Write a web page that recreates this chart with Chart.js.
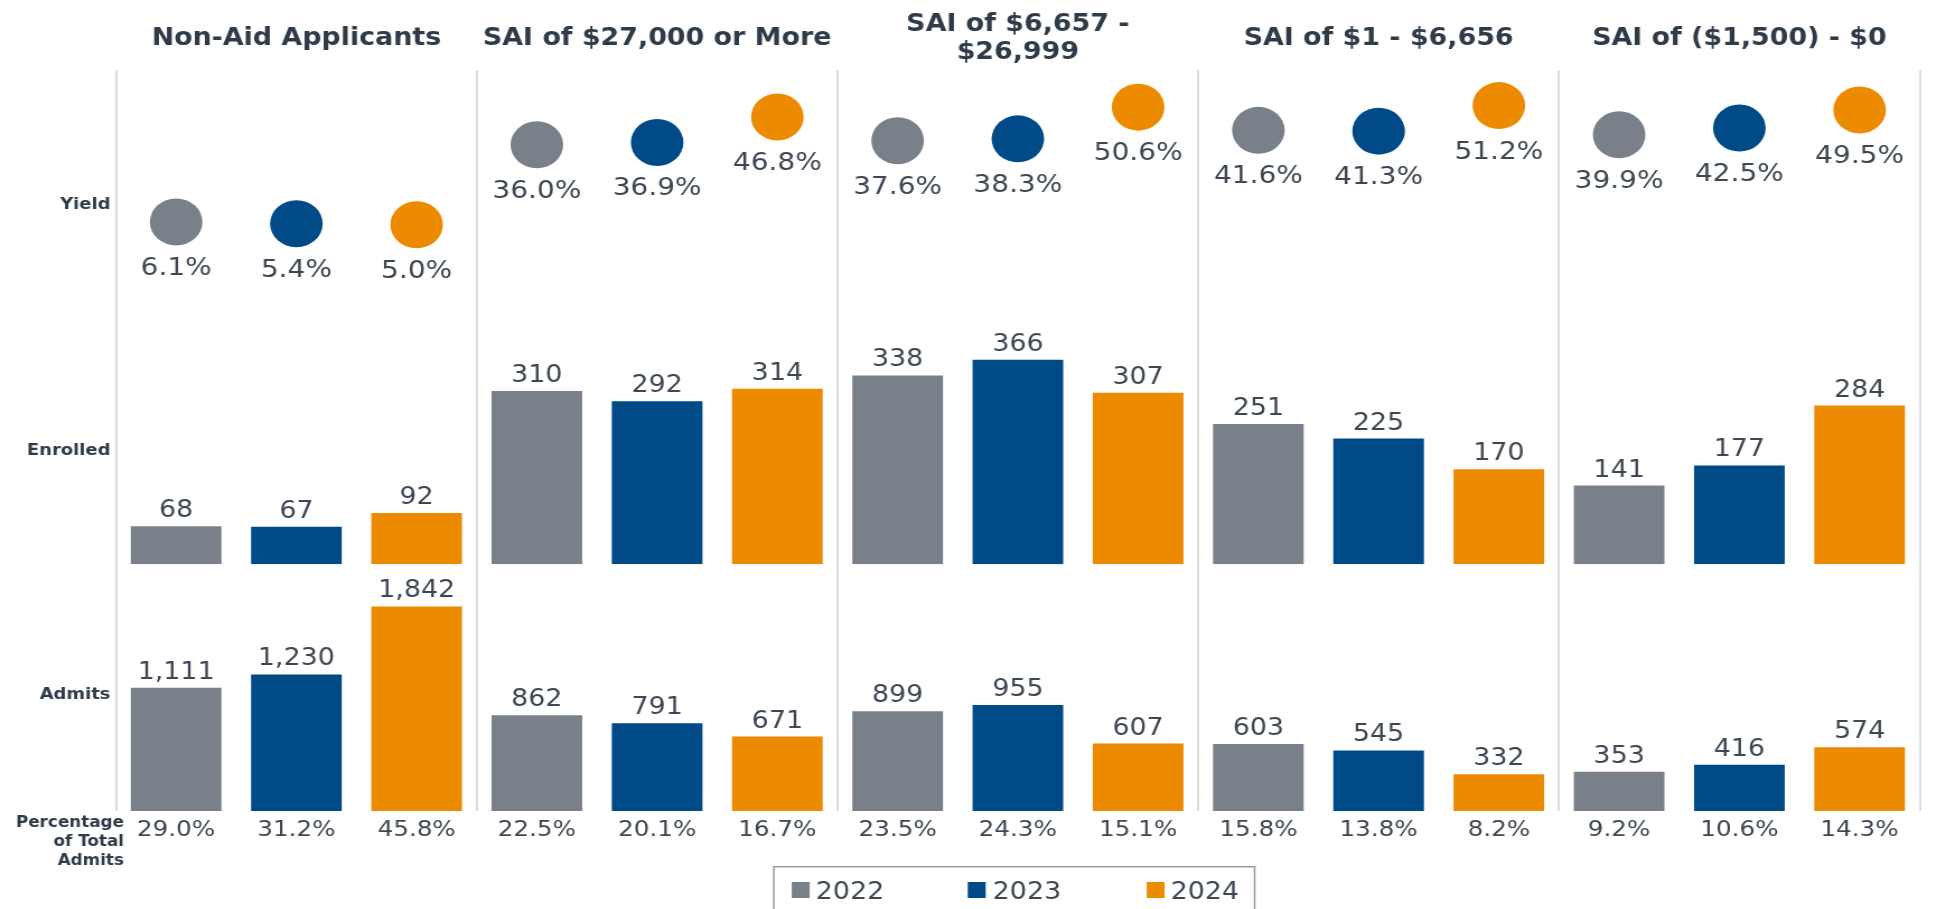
<!DOCTYPE html>
<html><head><meta charset="utf-8">
<script src="https://cdn.jsdelivr.net/npm/chart.js@4.4.1/dist/chart.umd.min.js"></script>
<style>
html,body{margin:0;padding:0;background:#fff;overflow:hidden;width:1946px;height:909px;}
#wrap{position:absolute;left:0;top:0;width:1738px;height:909px;transform:scaleX(1.1197);transform-origin:0 0;}
canvas{display:block;}
</style></head><body>
<div id="wrap"><canvas id="c" width="1738" height="909" style="width:1738px;height:909px"></canvas></div>
<script>
// ---- data ----
const groupLabels = ['Non-Aid Applicants', 'SAI of $27,000 or More', ['SAI of $6,657 -', '$26,999'], 'SAI of $1 - $6,656', 'SAI of ($1,500) - $0'];
const years = ['2022', '2023', '2024'];

const yield2022 = [6.1, 36.0, 37.6, 41.6, 39.9];
const yield2023 = [5.4, 36.9, 38.3, 41.3, 42.5];
const yield2024 = [5.0, 46.8, 50.6, 51.2, 49.5];

const enrolled2022 = [68, 310, 338, 251, 141];
const enrolled2023 = [67, 292, 366, 225, 177];
const enrolled2024 = [92, 314, 307, 170, 284];

const admits2022 = [1111, 862, 899, 603, 353];
const admits2023 = [1230, 791, 955, 545, 416];
const admits2024 = [1842, 671, 607, 332, 574];

const pct2022 = [29.0, 22.5, 23.5, 15.8, 9.2];
const pct2023 = [31.2, 20.1, 24.3, 13.8, 10.6];
const pct2024 = [45.8, 16.7, 15.1, 8.2, 14.3];

const rowLabels = ['Yield', 'Enrolled', 'Admits'];
const pctRowLabel = ['Percentage', 'of Total', 'Admits'];

// ---- styles ----
const yearColors = ['#7a8089', '#004b87', '#ec8b00'];
const titleColor = '#2f3b49';
const textColor = '#3d4652';
Chart.defaults.font.family = "'DejaVu Sans', Verdana, sans-serif";

// ---- build library table (group x year) ----
function flatten(a, b, c) {
  const src = [a, b, c], out = [];
  for (let g = 0; g < groupLabels.length; g++) for (let y = 0; y < years.length; y++) out.push(src[y][g]);
  return out;
}
const cats = [];
for (let g = 0; g < groupLabels.length; g++) for (let y = 0; y < years.length; y++) cats.push(String(groupLabels[g]) + ' ' + years[y]);
const yieldVals = flatten(yield2022, yield2023, yield2024);
const enrolledVals = flatten(enrolled2022, enrolled2023, enrolled2024);
const admitsVals = flatten(admits2022, admits2023, admits2024);
const pctVals = flatten(pct2022, pct2023, pct2024);
const colorsFlat = cats.map((_, i) => yearColors[i % years.length]);

const barCommon = { type: 'bar', grouped: false, barPercentage: 0.754, categoryPercentage: 1, borderWidth: 0, backgroundColor: colorsFlat };

const valueLabels = {
  id: 'valueLabels',
  afterDatasetsDraw(chart) {
    const ctx = chart.ctx;
    ctx.save();
    ctx.textAlign = 'center';
    ctx.textBaseline = 'alphabetic';
    ctx.fillStyle = textColor;
    chart.data.datasets.forEach((ds, di) => {
      const meta = chart.getDatasetMeta(di);
      meta.data.forEach((el, i) => {
        const v = ds.data[i];
        if (ds.type === 'line') {
          ctx.font = "25px 'DejaVu Sans'";
          ctx.fillText(v.toFixed(1) + '%', el.x, el.y + 53);
        } else {
          ctx.font = "24px 'DejaVu Sans'";
          ctx.fillText(v.toLocaleString('en-US'), el.x, el.y - 9);
        }
      });
    });
    ctx.restore();
  }
};

const extras = {
  id: 'extras',
  afterDraw(chart) {
    const ctx = chart.ctx;
    ctx.save();
    // Percentage of Total Admits row label
    ctx.fillStyle = titleColor;
    ctx.font = "bold 15px 'DejaVu Sans'";
    ctx.textAlign = 'right';
    ctx.textBaseline = 'alphabetic';
    const baseY = [826.7, 846, 865];
    pctRowLabel.forEach((t, i) => ctx.fillText(t, 110.7, baseY[i]));
    // legend
    ctx.strokeStyle = '#9a9a9a';
    ctx.lineWidth = 1.5;
    ctx.strokeRect(691.1, 866.7, 429.4, 60);
    const sq = [707.1, 864.3, 1024.1];
    const tx = [728.6, 886.6, 1045.5];
    ctx.font = "24px 'DejaVu Sans'";
    ctx.textAlign = 'left';
    years.forEach((yr, i) => {
      ctx.fillStyle = yearColors[i];
      ctx.fillRect(sq[i], 882, 16, 16);
      ctx.fillStyle = textColor;
      ctx.fillText(yr, tx[i], 899);
    });
    ctx.restore();
  }
};

function rowAxis(weight, min, max, tickValue, label) {
  return {
    type: 'linear', position: 'left', stack: 'rows', stackWeight: weight, min: min, max: max,
    grid: { display: false, drawTicks: false }, border: { display: false },
    afterBuildTicks: s => { s.ticks = [{ value: tickValue }]; },
    ticks: { callback: () => label, padding: 5, color: titleColor, font: { size: 16, weight: 'bold' } },
    afterFit: s => { s.width = 103.6; }
  };
}

new Chart(document.getElementById('c'), {
  data: {
    labels: cats,
    datasets: [
      Object.assign({}, barCommon, { label: 'Admits', data: admitsVals, yAxisID: 'yAdm' }),
      Object.assign({}, barCommon, { label: 'Enrolled', data: enrolledVals, yAxisID: 'yEnr' }),
      { type: 'line', label: 'Yield', data: yieldVals, yAxisID: 'yYld', showLine: false,
        pointRadius: 23.5, pointHoverRadius: 23.5, pointBorderWidth: 0, pointHoverBorderWidth: 0,
        pointBackgroundColor: colorsFlat, pointHoverBackgroundColor: colorsFlat, borderColor: 'rgba(0,0,0,0)', clip: false }
    ]
  },
  options: {
    responsive: false, animation: false, devicePixelRatio: 1,
    layout: { padding: 0 },
    events: [],
    plugins: { legend: { display: false }, tooltip: { enabled: false } },
    scales: {
      x: {
        type: 'category', position: 'bottom', offset: true,
        grid: { display: false, drawTicks: false }, border: { display: false },
        ticks: { autoSkip: false, maxRotation: 0, padding: 6, color: textColor, font: { size: 22 },
          callback: (v, i) => pctVals[i].toFixed(1) + '%' },
        afterFit: s => { s.height = 98; }
      },
      x2: {
        type: 'category', position: 'top', labels: groupLabels, min: 0, max: groupLabels.length - 1, offset: true,
        grid: { offset: true, drawTicks: false, color: '#dcdcdc', lineWidth: 2 }, border: { display: false },
        ticks: { autoSkip: false, maxRotation: 0, padding: 17, crossAlign: 'center', color: titleColor,
          font: { size: 24, weight: 'bold', lineHeight: 1.18 } },
        afterFit: s => { s.height = 70; }
      },
      yAdm: rowAxis(246.7, 0, 2222, 1042, rowLabels[2]),
      yEnr: rowAxis(226.3, 0, 405, 203, rowLabels[1]),
      yYld: rowAxis(268, -38.9, 65, 12.7, rowLabels[0])
    }
  },
  plugins: [valueLabels, extras]
});
</script>
</body></html>
